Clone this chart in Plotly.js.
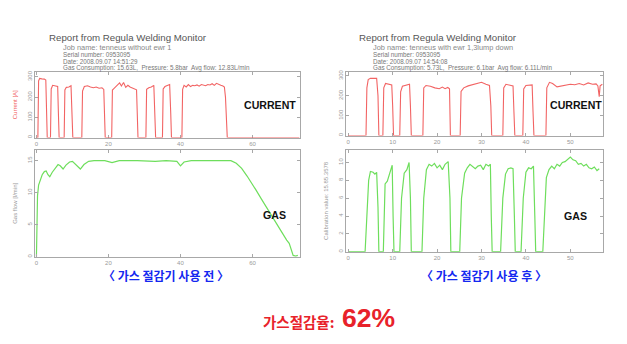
<!DOCTYPE html>
<html>
<head>
<meta charset="utf-8">
<script src="https://cdn.plot.ly/plotly-3.0.1.min.js"></script>
<style>html,body{margin:0;padding:0;background:#fff;}#chart{width:627px;height:344px;}</style>
</head>
<body>
<div id="chart"></div>
<script>
// ---- Left (before gas saver): welding current [A] vs time [s]
const leftCurT = [0,0.4,0.6,0.9,1.5,2.2,2.6,2.8,3.0,3.9,4.1,4.5,5.2,5.9,6.1,6.3,7.7,7.9,8.3,9.0,9.6,9.9,10.1,12.6,12.8,13.3,14.2,15.0,15.8,16.6,17.4,18.2,18.7,18.9,19.1,20.9,21.1,21.5,22.0,22.6,23.1,23.6,24.2,24.8,25.4,26.0,26.6,27.3,27.8,28.0,28.2,30.4,30.6,31.2,31.9,32.6,32.9,33.1,35.0,35.2,35.7,36.4,37.0,37.3,37.5,40.4,40.6,41.0,41.6,42.2,42.8,43.4,44.0,44.6,45.2,45.8,46.4,47.0,47.6,48.2,48.8,49.4,50.0,50.6,51.2,51.8,52.2,52.5,52.8,53.0,73];
const leftCurA = [0,0,280,292,290,289,284,120,0,0,240,258,256,252,120,0,0,235,248,250,256,120,0,0,230,252,256,250,246,250,244,246,238,120,0,0,235,242,250,262,270,255,272,248,258,250,244,240,236,120,0,0,238,246,250,258,120,0,0,240,252,256,262,120,0,0,238,258,250,262,252,258,256,260,254,262,258,256,262,260,266,258,268,262,258,255,250,200,80,0,0];

// ---- Left: gas flow [l/min] vs time [s]
const leftGasT = [0,0.15,0.3,0.6,1.0,1.6,2.2,2.7,3.2,3.7,4.4,5.2,6.0,6.6,7.4,8.2,9.2,10.0,11.0,12.2,13.2,14.5,16.0,19.0,21.0,23.0,28.0,33.0,36.0,39.0,40.0,41.0,43.0,50.0,54.0,55.5,57.0,58.5,60.0,61.0,62.5,64.0,65.5,67.0,68.5,69.5,70.2,70.8,71.3,72.0,72.6];
const leftGasF = [0,4,9.5,11.2,12.0,12.8,13.3,13.4,12.8,12.5,13.2,13.8,14.4,14.2,13.7,14.3,14.8,14.9,14.3,13.7,14.4,14.9,15.0,15.0,14.7,15.0,15.0,14.9,15.0,14.9,14.2,14.8,15.0,15.0,15.0,14.6,13.8,12.6,11.4,10.4,9.0,7.6,6.3,5.0,3.6,2.6,2.1,0.9,0.2,0.1,0.2];

// ---- Right (after gas saver): welding current [A] vs time [s]
const rightCurT = [0,4.0,4.2,4.5,5.0,5.8,6.4,6.7,6.9,7.8,8.0,8.4,9.2,9.8,10.0,10.2,11.6,11.8,12.2,13.0,13.8,14.0,14.2,16.8,17.0,17.5,18.5,19.5,20.5,21.2,21.8,22.4,22.8,23.0,25.2,25.4,26.0,27.0,28.0,29.0,30.0,31.0,31.8,32.1,32.3,34.8,35.0,35.5,36.4,37.1,37.3,37.5,39.3,39.5,40.0,40.8,41.4,41.6,41.8,44.5,44.7,45.3,46.0,47.0,48.0,49.0,50.0,51.0,52.0,53.0,54.0,55.0,55.8,56.2,56.5,56.7,57.2];
const rightCurA = [0,0,240,282,288,290,288,200,0,0,240,262,260,255,150,0,0,220,248,255,258,150,0,0,240,252,248,240,236,244,236,242,235,0,0,222,240,250,256,262,268,258,252,150,0,0,240,258,255,250,120,0,0,235,252,255,255,120,0,0,240,268,262,245,250,255,258,256,262,255,265,258,260,250,195,250,258];

// ---- Right: gas flow (calibrated) vs time [s]
const rightGasT = [0,3.8,4.2,4.6,5.0,5.6,6.0,6.4,6.7,6.9,7.9,8.1,8.3,8.8,9.3,9.9,10.1,10.3,11.6,12.0,12.6,13.2,13.7,14.0,14.2,16.6,17.0,17.6,18.2,18.8,19.4,20.0,20.6,21.2,21.8,22.5,22.9,23.1,25.1,25.5,26.2,26.8,27.4,28.0,28.6,29.2,29.8,30.4,31.0,31.6,32.0,32.2,32.4,34.3,34.8,35.4,36.0,36.6,37.1,37.4,37.6,38.9,39.4,40.0,40.6,41.2,41.7,42.0,42.2,43.8,44.2,44.6,45.2,45.8,46.4,47.0,47.6,48.2,48.8,49.4,50.0,50.6,51.2,51.8,52.4,53.0,53.6,54.2,54.8,55.4,56.0,56.5];
const rightGasF = [0,0,4.0,8.0,9.0,8.9,8.7,8.9,5.0,0,0,5,7.6,7.9,8.8,9.7,4,0,0,6,8.8,9.2,10.0,6,0,0,6,9.2,9.8,9.6,9.9,9.4,9.7,9.2,9.8,10.1,6,0,0,6,8.8,9.4,9.8,9.6,9.3,9.6,9.7,9.2,9.8,9.6,9.8,4,0,0,6,8.7,9.3,9.4,9.3,4,0,0,6,8.9,9.4,9.3,9.6,4,0,0,4,8.3,9.2,9.6,9.3,9.8,9.6,10.0,10.1,10.4,10.6,10.3,10.2,9.8,9.9,9.6,9.8,9.4,9.3,9.5,9.1,9.3];

// ---- Tick labels
const leftTimeTicks = [0,20,40,60];
const rightTimeTicks = [0,10,20,30,40,50];
const currentTicks = [0,100,200,300];
const leftGasTicks = [0,5,10,15];
const rightGasTicks = [0,2,4,6,8,10];

// ---- Texts
const headerTitle = 'Report from Regula Welding Monitor';
const leftInfo = ['Job name: tenneus without ewr 1','Serial number: 0953095','Date: 2008.09.07 14:51:29','Gas Consumption: 15.63L,  Pressure: 5.8bar  Avg flow: 12.83L/min'];
const rightInfo = ['Job name: tenneus with ewr 1,3lump down','Serial number: 0953095','Date: 2008.09.07 14:54:08','Gas Consumption: 5.73L,  Pressure: 6.1bar  Avg flow: 6.11L/min'];
const captions = ['〈 가스 절감기 사용 전 〉','〈 가스 절감기 사용 후 〉'];
const savingLabel = '가스절감율:';
const savingValue = '62%';

const W = 627, H = 344;
const fx = p => p / W, fy = p => 1 - p / H;

const curColor = '#f26464';
const gasColor = '#6ede5c';
const axColor = '#a8a8a8';
const tickFont = {family: 'Liberation Sans, Arial, sans-serif', size: 6, color: '#999'};

function xa(domain, range, ticks, anchor, layer) {
  return {domain, range, anchor, tickvals: ticks, ticks: 'inside', ticklen: 3, tickcolor: axColor,
    showline: true, linecolor: axColor, linewidth: 1, mirror: 'ticks', showgrid: false, zeroline: false,
    tickfont: tickFont, layer: layer, fixedrange: true};
}
function ya(domain, range, ticks, anchor, title, titleColor, layer) {
  return {domain, range, anchor, tickvals: ticks, ticks: 'inside', ticklen: 3, tickcolor: axColor,
    showline: true, linecolor: axColor, linewidth: 1, mirror: 'ticks', showgrid: false, zeroline: false,
    tickfont: tickFont, tickangle: -90, layer: layer, fixedrange: true,
    title: {text: title, font: {family: 'Liberation Sans, Arial, sans-serif', size: 6, color: titleColor}, standoff: 8}};
}

const traces = [
  {x: leftCurT, y: leftCurA, xaxis: 'x', yaxis: 'y', type: 'scatter', mode: 'lines', line: {color: curColor, width: 1.1}},
  {x: leftGasT, y: leftGasF, xaxis: 'x2', yaxis: 'y2', type: 'scatter', mode: 'lines', line: {color: gasColor, width: 1.2}},
  {x: rightCurT, y: rightCurA, xaxis: 'x3', yaxis: 'y3', type: 'scatter', mode: 'lines', line: {color: curColor, width: 1.1}},
  {x: rightGasT, y: rightGasF, xaxis: 'x4', yaxis: 'y4', type: 'scatter', mode: 'lines', line: {color: gasColor, width: 1.2}}
];

const LX = [fx(35), fx(300)], RX = [fx(346), fx(603)];
const layout = {
  width: W, height: H, margin: {l: 0, r: 0, t: 0, b: 0},
  paper_bgcolor: '#fff', plot_bgcolor: '#fff', showlegend: false,
  xaxis: xa(LX, [-0.4, 73.2], leftTimeTicks, 'y', 'below traces'),
  yaxis: ya([fy(137.5), fy(72)], [0, 324], currentTicks, 'x', 'Current [A]', '#f05a5a', 'below traces'),
  xaxis2: xa(LX, [-0.4, 73.2], leftTimeTicks, 'y2', 'above traces'),
  yaxis2: ya([fy(256.7), fy(150)], [0, 16.67], leftGasTicks, 'x2', 'Gas flow [l/min]', '#999', 'above traces'),
  xaxis3: xa(RX, [-0.5, 57.35], rightTimeTicks, 'y3', 'below traces'),
  yaxis3: ya([fy(135.5), fy(72)], [0, 320], currentTicks, 'x3', '', '#999', 'below traces'),
  xaxis4: xa(RX, [-0.5, 57.35], rightTimeTicks, 'y4', 'above traces'),
  yaxis4: ya([fy(251.7), fy(150)], [0, 11.4], rightGasTicks, 'x4', 'Calibration value: 15.85.3578', '#999', 'above traces'),
  annotations: []
};

const A = layout.annotations;
function txt(text, x, y, font, xanchor) {
  A.push({text, x: fx(x), y: fy(y), xref: 'paper', yref: 'paper', xanchor: xanchor || 'left', yanchor: 'middle', showarrow: false, font});
}
const hFont = {family: 'Liberation Sans, Arial, sans-serif', size: 9.7, color: '#555'};
const jFont = {family: 'Liberation Sans, Arial, sans-serif', size: 7.4, color: '#888'};
const iFont = {family: 'Liberation Sans, Arial, sans-serif', size: 6.3, color: '#777'};
txt(headerTitle, 47, 37.5, hFont);
txt(headerTitle, 357, 37.5, hFont);
const infoY = [47.5, 54.3, 61.3, 68.3];
leftInfo.forEach((s, i) => txt(s, 61, infoY[i], i === 0 ? jFont : iFont));
rightInfo.forEach((s, i) => txt(s, 371, infoY[i], i === 0 ? jFont : iFont));

const bigFont = {family: 'Liberation Sans, Arial, sans-serif', size: 10.6, color: '#111'};
txt('<b>CURRENT</b>', 242, 105, bigFont);
txt('<b>CURRENT</b>', 548, 105, bigFont);
txt('<b>GAS</b>', 261, 215, bigFont);
txt('<b>GAS</b>', 562, 216, bigFont);

const capFont = {family: 'Noto Sans CJK KR, sans-serif', size: 12, color: '#1428f0'};
txt('<b>' + captions[0] + '</b>', 166, 275, capFont, 'center');
txt('<b>' + captions[1] + '</b>', 484, 275, capFont, 'center');

txt('<b>' + savingLabel + '</b>', 336, 321, {family: 'Noto Sans CJK KR, sans-serif', size: 14.5, color: '#e8222a'}, 'right');
txt('<b>' + savingValue + '</b>', 340, 318, {family: 'Liberation Sans, Arial, sans-serif', size: 26.5, color: '#e8222a'}, 'left');

Plotly.newPlot('chart', traces, layout, {staticPlot: true, displayModeBar: false});
</script>
</body>
</html>
